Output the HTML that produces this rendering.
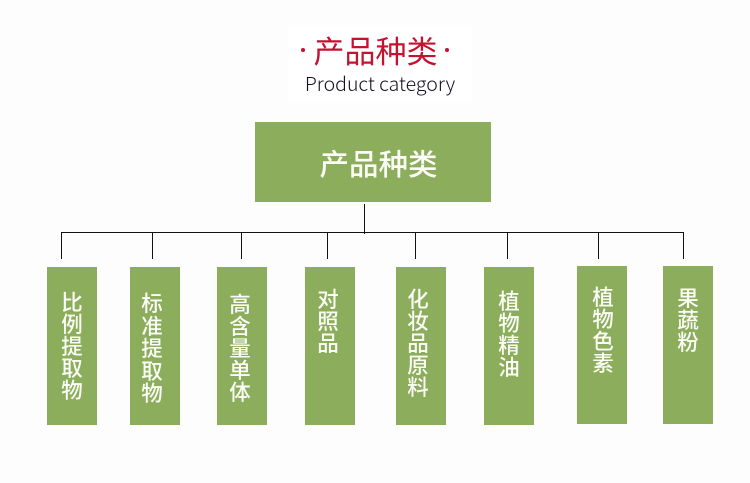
<!DOCTYPE html>
<html lang="zh">
<head>
<meta charset="utf-8">
<style>
html,body{margin:0;padding:0;}
body{width:750px;height:483px;background:#fdfdfd;position:relative;overflow:hidden;font-family:"Liberation Sans","Noto Sans CJK SC",sans-serif;}
.a{position:absolute;}
.b{position:absolute;background:#8bad5c;}
.l{position:absolute;background:#111;}
.t{position:absolute;width:30px;color:#fbfdf6;font-size:21.5px;line-height:22px;text-align:center;font-family:"Noto Sans CJK SC",sans-serif;font-weight:500;white-space:pre-line;}
</style>
</head>
<body>
<div class="a" style="left:288px;top:25px;width:184px;height:78px;background:#fff;"></div>
<div class="a" style="left:283.5px;top:28px;width:184px;height:44px;line-height:44px;text-align:center;color:#c4122f;font-size:31px;white-space:nowrap;font-family:'Noto Sans CJK SC',sans-serif;font-weight:400;">产品种类</div>
<div class="a" style="left:301px;top:48px;width:4px;height:4px;border-radius:50%;background:#c4122f;"></div>
<div class="a" style="left:445px;top:48px;width:4px;height:4px;border-radius:50%;background:#c4122f;"></div>
<div class="a" style="left:288px;top:68px;width:184px;height:30px;line-height:30px;text-align:center;color:#10101e;font-size:19.5px;white-space:nowrap;font-family:'Noto Sans CJK SC',sans-serif;font-weight:300;">Product category</div>

<div class="b" style="left:255px;top:122px;width:236px;height:80px;"></div>
<div class="a" style="left:260.5px;top:141px;width:236px;height:44px;line-height:44px;text-align:center;color:#fbfdf6;font-size:29.5px;white-space:nowrap;font-family:'Noto Sans CJK SC',sans-serif;font-weight:500;">产品种类</div>

<div class="l" style="left:364px;top:204px;width:1px;height:30px;"></div>
<div class="l" style="left:61px;top:232px;width:623px;height:1px;"></div>
<div class="l" style="left:61px;top:232px;width:1px;height:27px;"></div>
<div class="l" style="left:152px;top:232px;width:1px;height:27px;"></div>
<div class="l" style="left:241px;top:232px;width:1px;height:27px;"></div>
<div class="l" style="left:327px;top:232px;width:1px;height:27px;"></div>
<div class="l" style="left:415px;top:232px;width:1px;height:27px;"></div>
<div class="l" style="left:507px;top:232px;width:1px;height:27px;"></div>
<div class="l" style="left:598px;top:232px;width:1px;height:27px;"></div>
<div class="l" style="left:683px;top:232px;width:1px;height:27px;"></div>

<div class="b" style="left:47px;top:267px;width:50px;height:158px;"></div>
<div class="b" style="left:130px;top:267px;width:50px;height:158px;"></div>
<div class="b" style="left:217px;top:267px;width:50px;height:158px;"></div>
<div class="b" style="left:305px;top:267px;width:50px;height:158px;"></div>
<div class="b" style="left:396px;top:267px;width:50px;height:158px;"></div>
<div class="b" style="left:484px;top:267px;width:50px;height:158px;"></div>
<div class="b" style="left:577px;top:266px;width:50px;height:158px;"></div>
<div class="b" style="left:663px;top:266px;width:50px;height:158px;"></div>

<div class="t" style="left:57px;top:291px;">比
例
提
取
物</div>
<div class="t" style="left:137px;top:292px;line-height:22.5px;">标
准
提
取
物</div>
<div class="t" style="left:225px;top:293px;">高
含
量
单
体</div>
<div class="t" style="left:313px;top:288px;">对
照
品</div>
<div class="t" style="left:403px;top:288px;">化
妆
品
原
料</div>
<div class="t" style="left:494px;top:290px;">植
物
精
油</div>
<div class="t" style="left:588px;top:286px;">植
物
色
素</div>
<div class="t" style="left:673px;top:287px;">果
蔬
粉</div>
</body>
</html>
